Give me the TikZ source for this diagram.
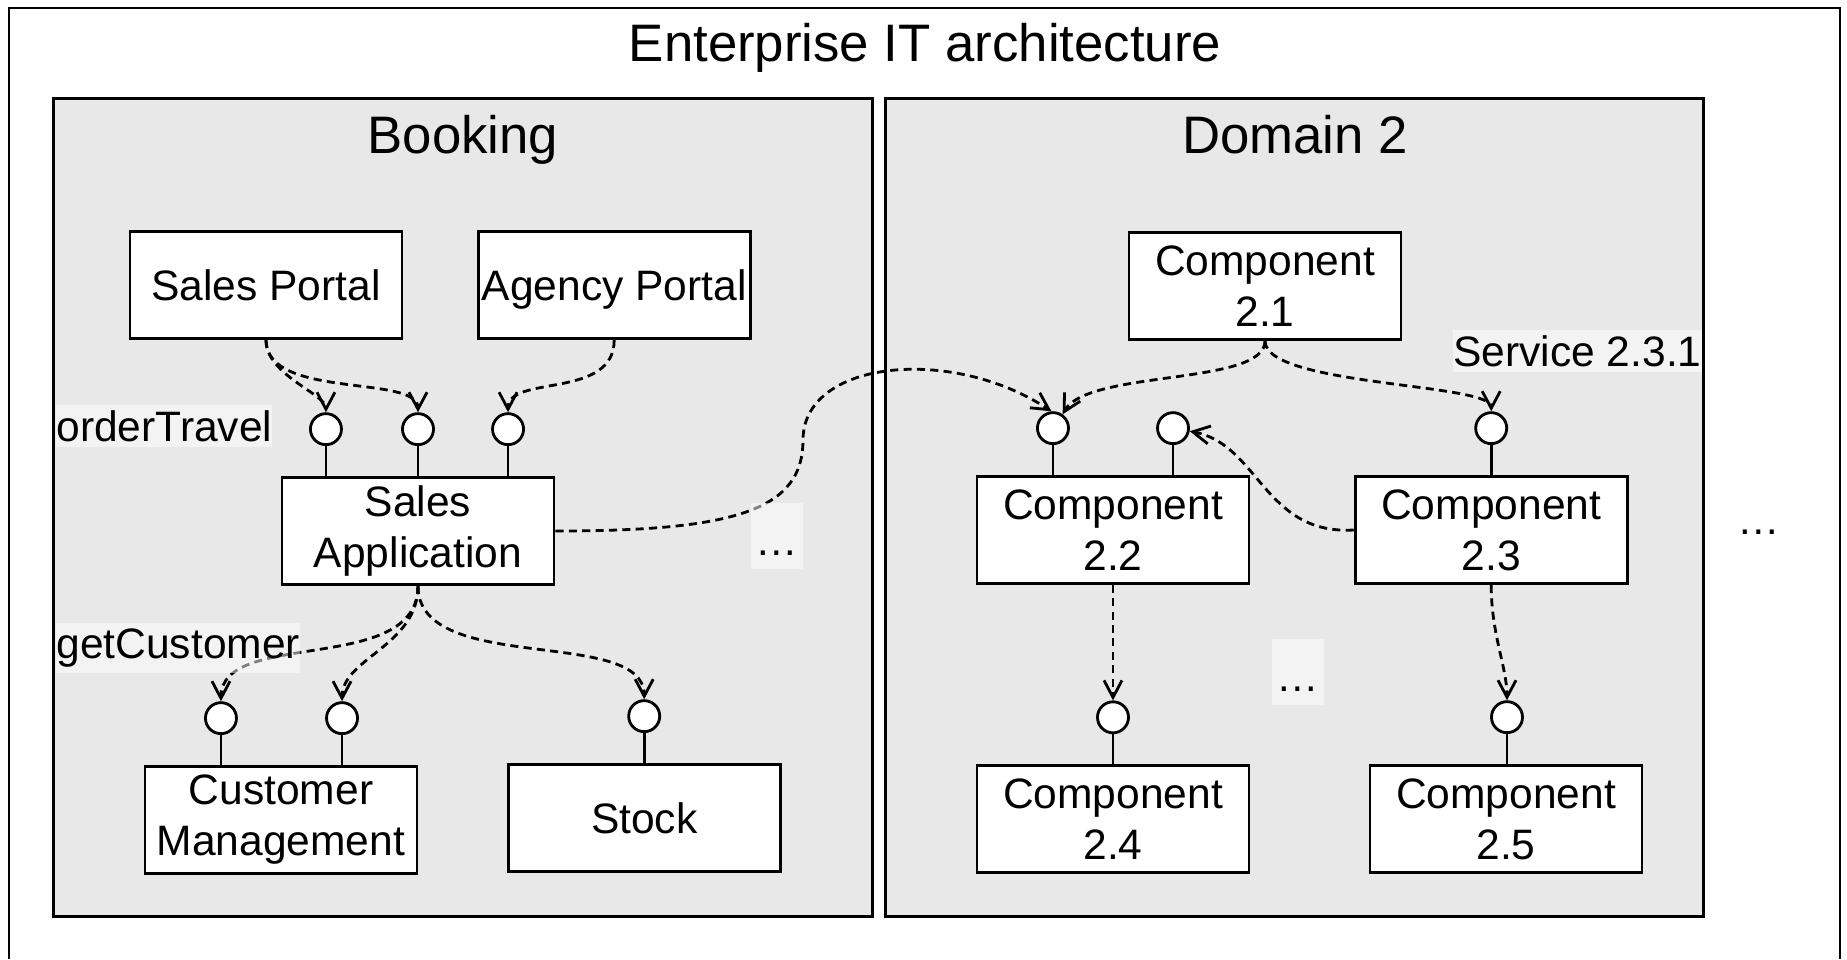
\documentclass[tikz,border=0pt]{standalone}
\usepackage{fontspec}
\setmainfont{Liberation Sans}
\usetikzlibrary{positioning,arrows.meta}
\definecolor{areagray}{HTML}{E8E8E8}

\begin{document}
\begin{tikzpicture}[x=0.01cm, y=-0.01cm, line width=0.8pt,
        every node/.style = {font=\fontsize{12.1}{14.5}\selectfont},
        big/.style = {font=\fontsize{15}{18}\selectfont, anchor=base},
        area/.style = {draw, line width=0.8pt, fill=areagray, minimum width=8.18cm, minimum height=8.17cm},
        comp/.style = {draw, line width=0.8pt, fill=white, align=center, minimum width=2.72cm, minimum height=1.07cm, inner sep=1pt},
        iface/.style = {draw, circle, fill=white, minimum size=0.31cm, inner sep=0pt},
        dep/.style = {dash pattern=on 2.3pt off 1.5pt, -{Straight Barb[length=1.7mm, width=1.8mm]}},
        tag/.style = {fill=white, fill opacity=0.5, text opacity=1, inner ysep=1.5pt, inner xsep=0pt},
        etc/.style = {tag, minimum width=0.51cm, text height=0.47cm, text depth=0.08cm}]
    \useasboundingbox (0,0) rectangle (1847,959);
    % outer frame, open at the bottom
    \draw (9,959) -- (9,8) -- (1840,8) -- (1840,959);
    \node[big] (title) at (925,61) {Enterprise IT architecture};

    % the two domains
    \node[area] (booking) at (463,507.5) {};
    \node[area] (dom2) at (1294.5,507.5) {};
    \node[big] (booktitle) at (463,153) {Booking};
    \node[big] (domtitle) at (1295,153) {Domain 2};

    % components of Booking
    \node[comp] (sp) at (266,285) {Sales Portal};
    \node[comp, text depth=0pt] (ap) [right of=sp, node distance=3.48cm] {Agency Portal};
    \node[comp] (sa) at (418,531) {Sales\\Application};
    \node[comp] (cm) at (281,820) {Customer\\Management};
    \node[comp] (st) [right of=cm, node distance=3.63cm, yshift=0.02cm] {Stock};

    % components of Domain 2
    \node[comp] (c21) at (1265,286) {Component\\2.1};
    \node[comp] (c22) at (1113,530) {Component\\2.2};
    \node[comp] (c23) [right of=c22, node distance=3.78cm] {Component\\2.3};
    \node[comp] (c24) [below of=c22, node distance=2.89cm] {Component\\2.4};
    \node[comp] (c25) at (1506,819) {Component\\2.5};

    % provided interfaces
    \node[iface] (sa1) [above=0.30cm of sa.north, xshift=-0.92cm] {};
    \node[iface] (sa2) [above=0.30cm of sa.north] {};
    \node[iface] (sa3) [above=0.30cm of sa.north, xshift=0.90cm] {};
    \node[iface] (cm1) [above=0.30cm of cm.north, xshift=-0.60cm] {};
    \node[iface] (cm2) [above=0.30cm of cm.north, xshift=0.61cm] {};
    \node[iface] (st1) [above=0.30cm of st.north] {};
    \node[iface] (c22a) [above=0.30cm of c22.north, xshift=-0.60cm] {};
    \node[iface] (c22b) [above=0.30cm of c22.north, xshift=0.60cm] {};
    \node[iface] (c23a) [above=0.30cm of c23.north] {};
    \node[iface] (c24a) [above=0.30cm of c24.north] {};
    \node[iface] (c25a) [above=0.30cm of c25.north, xshift=0.01cm] {};
    \draw (sa1) -- (sa1 |- sa.north);
    \draw (sa2) -- (sa2 |- sa.north);
    \draw (sa3) -- (sa3 |- sa.north);
    \draw (cm1) -- (cm1 |- cm.north);
    \draw (cm2) -- (cm2 |- cm.north);
    \draw (st1) -- (st1 |- st.north);
    \draw (c22a) -- (c22a |- c22.north);
    \draw (c22b) -- (c22b |- c22.north);
    \draw (c23a) -- (c23a |- c23.north);
    \draw (c24a) -- (c24a |- c24.north);
    \draw (c25a) -- (c25a |- c25.north);

    % usage dependencies
    \draw[dep] (sp.south) .. controls +(0,35) and +(0,-35) .. (sa1);
    \draw[dep] (sp.south) .. controls +(0,60) and +(0,-55) .. (sa2);
    \draw[dep] (ap.south) .. controls +(0,60) and +(0,-55) .. (sa3);
    \draw[dep] (sa.south) .. controls +(0,90) and +(0,-90) .. (cm1);
    \draw[dep] (sa.south) .. controls +(0,60) and +(0,-60) .. (cm2);
    \draw[dep] (sa.south) .. controls +(0,90) and +(0,-90) .. (st1);
    \draw[dep] (sa.east) .. controls +(180,0) and +(0,70) .. (803,440)
        .. controls +(0,-80) and +(-100,-66) .. (c22a.95);
    \draw[dep] (c21.south) .. controls +(0,45) and +(25,-45) .. (c22a.55);
    \draw[dep] (c21.south) .. controls +(0,45) and +(0,-45) .. (c23a);
    \draw[dep] (c23.west) .. controls +(-90,5) and +(86,16) .. (c22b);
    \draw[dep] (c22.south) -- (c24a);
    \draw[dep] (c23.south) .. controls +(0,50) and +(0,-50) .. (c25a);

    % interface names and elisions
    \node[tag, anchor=west] (ot) at (55,426) {orderTravel};
    \node[tag, anchor=west] (gc) at (55,648) {getCustomer};
    \node[tag, anchor=east] (sv) at (1703,351) {Service 2.3.1};
    \node[etc] (more1) at (777,536) {\dots};
    \node[etc] (more2) at (1298,672) {\dots};
    \node (more3) at (1759,532) {\dots};
\end{tikzpicture}
\end{document}
